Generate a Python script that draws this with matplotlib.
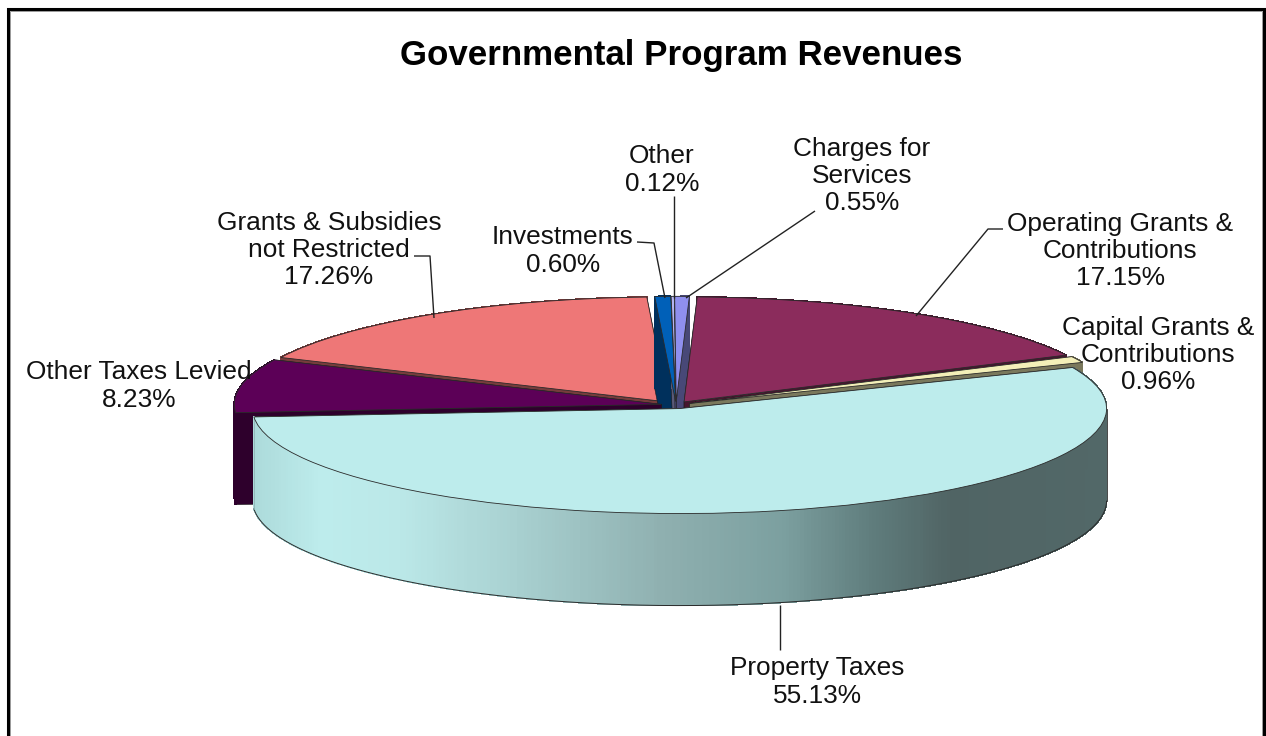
import numpy as np
import matplotlib
matplotlib.use("Agg")
import matplotlib.pyplot as plt
from matplotlib.colors import LinearSegmentedColormap, to_rgb
from matplotlib.patches import Polygon

plt.rcParams['font.family'] = ['Liberation Sans', 'DejaVu Sans']

W, H = 1266, 736

# --- data -------------------------------------------------------------
categories = ["Investments", "Other", "Charges for\nServices", "Operating Grants &\nContributions",
              "Capital Grants &\nContributions", "Property Taxes", "Other Taxes Levied",
              "Grants & Subsidies\nnot Restricted"]
shares = [0.60, 0.12, 0.55, 17.15, 0.96, 55.13, 8.23, 17.26]
colors = ["#0060B8", "#B4B4F0", "#8F8FEE", "#8B2C5C", "#F3EFB8", "#BDECEC", "#5C0057", "#EE7777"]
title = "Governmental Program Revenues"

# label centre (pixels) and leader polylines (pixels)
label_xy = [(563, 251), (662, 170), (862, 176), (1120, 251), (1158, 355), (817, 682), (139, 386), (329, 250)]
leaders = [[(637, 242), (654, 243), (665, 298)],
           [(674, 196), (674, 298)],
           [(815, 211), (686, 298)],
           [(1003, 229), (988, 229), (916, 316)],
           [],
           [(780, 605), (780, 650)],
           [],
           [(414, 256), (430, 256), (434, 318)]]

# --- geometry of the squashed pie --------------------------------------
CX, CY, A, B = 676, 405, 427, 105
DEPTH = 92 / B
EXPLODE = 0.035
START = 92.8
draw_order = [7, 0, 1, 2, 3, 4, 6, 5]   # back to front
PROPERTY = 5
THIN = (0, 1, 2)

fig = plt.figure(figsize=(W / 100, H / 100), dpi=100, facecolor="white")
ax = fig.add_axes([0, 0, 1, 1])
wedges, _ = ax.pie(shares, colors=colors, startangle=START, counterclock=False,
                   explode=[EXPLODE] * len(shares),
                   wedgeprops=dict(edgecolor="#2a2a2a", linewidth=0.6))
ax.set_aspect("auto")
ax.set_xlim((0 - CX) / A, (W - CX) / A)
ax.set_ylim((CY - H) / B, CY / B)
ax.axis("off")


def darker(c, f=0.5):
    return tuple(v * f for v in to_rgb(c))


def rim(w, t):
    t = np.radians(t)
    return w.center[0] + np.cos(t), w.center[1] + np.sin(t)


wall_cmap = LinearSegmentedColormap.from_list(
    "wall", [(0.00, "#ACDADA"), (0.08, "#BDECEC"), (0.17, "#BBE8E8"), (0.31, "#A8D0D0"),
             (0.48, "#8FB0B0"), (0.62, "#7CA0A0"), (0.73, "#5F7C7C"), (0.82, "#506464"),
             (1.00, "#526868")])

z = 2
for i in draw_order:
    w = wedges[i]
    cx, cy = w.center
    base = darker(colors[i], 0.5)
    ts = np.linspace(w.theta1, w.theta2, 400)
    # cut faces
    for t in (w.theta1, w.theta2):
        x, y = rim(w, t)
        ax.add_patch(Polygon([(cx, cy), (x, y), (x, y - DEPTH), (cx, cy - DEPTH)],
                             closed=True, facecolor=base, edgecolor="#1a1a1a", lw=0.4, zorder=z))
    # outer wall
    for t0, t1 in zip(ts[:-1], ts[1:]):
        x0, y0 = rim(w, t0)
        x1, y1 = rim(w, t1)
        if i == PROPERTY:
            u = ((x0 + x1) / 2 - (cx - 1)) / 2
            col = wall_cmap(u)
        else:
            col = base
        ax.add_patch(Polygon([(x0, y0), (x1, y1), (x1, y1 - DEPTH), (x0, y0 - DEPTH)],
                             closed=True, facecolor=col, edgecolor=col, lw=0.6, zorder=z,
                             antialiased=False))
    if i == PROPERTY:
        front = ts[np.sin(np.radians(ts)) <= 0]
        rx, ry = rim(w, front)
        ax.plot(rx, ry - DEPTH, color="#2a2a2a", lw=0.7, zorder=z + 0.5)
        ax.plot([rx[0], rx[0]], [ry[0], ry[0] - DEPTH], color="#8fb5b5", lw=0.6, zorder=z + 0.5)
        ax.plot([rx[-1], rx[-1]], [ry[-1], ry[-1] - DEPTH], color="#2a2a2a", lw=0.6, zorder=z + 0.5)
    w.set_zorder(9 if i in THIN else z + 1)
    z += 2

# --- overlay in pixel coordinates --------------------------------------
ov = fig.add_axes([0, 0, 1, 1], facecolor="none")
ov.set_xlim(0, W)
ov.set_ylim(H, 0)
ov.axis("off")

for pts in leaders:
    if pts:
        xs, ys = zip(*pts)
        ov.plot(xs, ys, color="#222222", lw=1.0, solid_capstyle="butt")

shown = [f"{c}\n{s:.2f}%" for c, s in zip(categories, shares)]
for s, (x, y) in zip(shown, label_xy):
    ov.text(x, y, s, ha="center", va="center", fontsize=18.9, color="#111111", linespacing=1.17)

ov.text(681, 56, title, ha="center", va="center", fontsize=25.1, fontweight="bold", color="black")

# outer frame
ov.plot([7.5, 7.5, 1263.5, 1263.5], [736, 8.5, 8.5, 736], color="black", lw=2.2, solid_joinstyle="miter")
ov.plot([10, 10, 1261.5, 1261.5], [736, 10.5, 10.5, 736], color="#999999", lw=0.7, solid_joinstyle="miter")

fig.savefig("out.png", dpi=100, facecolor="white")
